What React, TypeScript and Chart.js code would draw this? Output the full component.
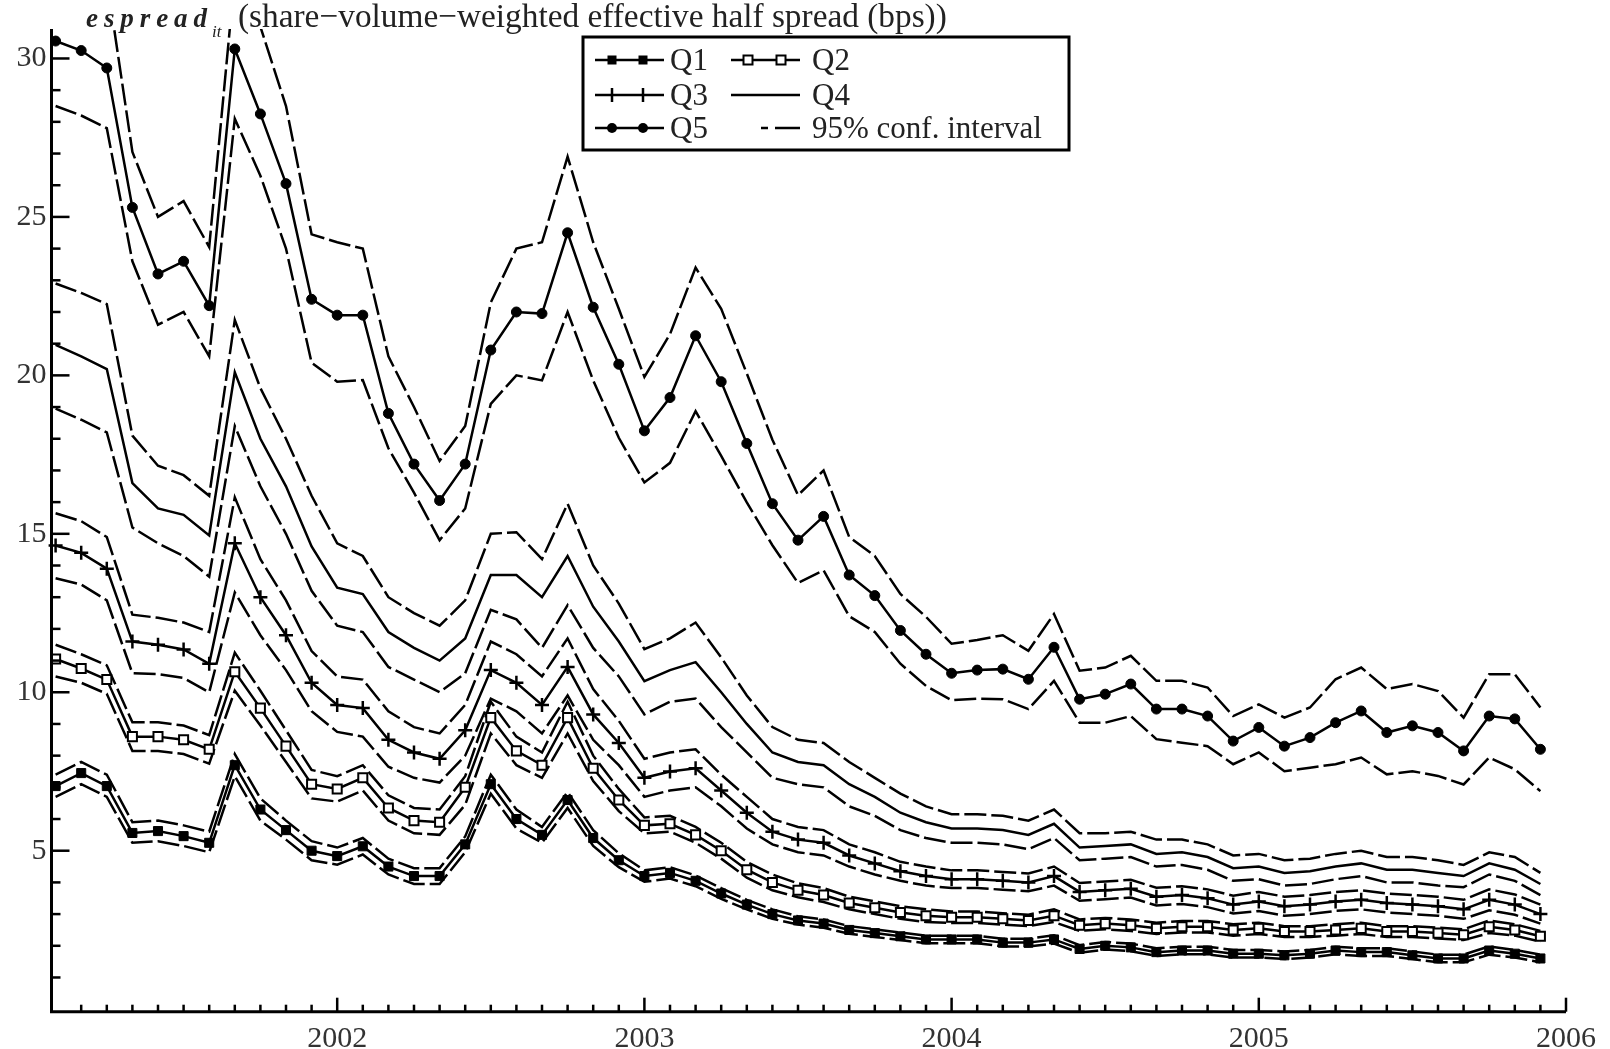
import React, { useEffect, useRef } from 'react';
import { Chart, registerables } from 'chart.js';

Chart.register(...registerables);

// ---------- data ----------
const MONTHS = [
  '2001-02', '2001-03', '2001-04', '2001-05', '2001-06', '2001-07', '2001-08', '2001-09', '2001-10', '2001-11', '2001-12',
  '2002-01', '2002-02', '2002-03', '2002-04', '2002-05', '2002-06', '2002-07', '2002-08', '2002-09', '2002-10', '2002-11', '2002-12',
  '2003-01', '2003-02', '2003-03', '2003-04', '2003-05', '2003-06', '2003-07', '2003-08', '2003-09', '2003-10', '2003-11', '2003-12',
  '2004-01', '2004-02', '2004-03', '2004-04', '2004-05', '2004-06', '2004-07', '2004-08', '2004-09', '2004-10', '2004-11', '2004-12',
  '2005-01', '2005-02', '2005-03', '2005-04', '2005-05', '2005-06', '2005-07', '2005-08', '2005-09', '2005-10', '2005-11', '2005-12',
];

const Q5 = [
  30.55, 30.25, 29.7, 25.3, 23.2, 23.6, 22.2, 30.3, 28.25, 26.05,
  22.4, 21.9, 21.9, 18.8, 17.2, 16.05, 17.2, 20.8, 22.0, 21.95,
  24.5, 22.15, 20.35, 18.25, 19.3, 21.25, 19.8, 17.85, 15.95, 14.8,
  15.55, 13.7, 13.05, 11.95, 11.2, 10.6, 10.7, 10.73, 10.41, 11.42,
  9.78, 9.94, 10.26, 9.47, 9.47, 9.25, 8.46, 8.89, 8.3, 8.57,
  9.04, 9.41, 8.73, 8.94, 8.73, 8.15, 9.25, 9.16, 8.2,
];
const Q5_UP = [
  32.8, 32.3, 32.5, 27.05, 25.0, 25.5, 24.05, 32.6, 31.0, 28.5,
  24.45, 24.2, 24.0, 20.6, 19.0, 17.3, 18.4, 22.3, 24.0, 24.2,
  26.9, 24.2, 22.1, 19.95, 21.3, 23.4, 22.1, 20.06, 17.97, 16.22,
  17.0, 14.9, 14.3, 13.1, 12.38, 11.53, 11.65, 11.8, 11.31, 12.47,
  10.68, 10.78, 11.15, 10.36, 10.36, 10.15, 9.25, 9.62, 9.2, 9.52,
  10.41, 10.78, 10.1, 10.26, 10.04, 9.2, 10.57, 10.57, 9.52,
];
const Q5_LO = [
  28.5, 28.2, 27.8, 23.6, 21.6, 22.0, 20.6, 28.1, 26.3, 24.0,
  20.4, 19.8, 19.85, 17.7, 16.3, 14.8, 15.8, 19.1, 20.0, 19.84,
  22.0, 19.84, 18.03, 16.62, 17.24, 18.87, 17.46, 15.99, 14.64, 13.45,
  13.85, 12.4, 11.9, 10.9, 10.2, 9.75, 9.8, 9.78, 9.47, 10.36,
  9.04, 9.04, 9.25, 8.52, 8.41, 8.3, 7.73, 8.1, 7.51, 7.62,
  7.73, 7.94, 7.41, 7.51, 7.36, 7.09, 7.94, 7.57, 6.88,
];

const Q4 = [
  20.96, 20.6, 20.2, 16.6, 15.8, 15.6, 14.95, 20.1, 18.0, 16.5,
  14.6, 13.3, 13.1, 11.9, 11.4, 11.0, 11.7, 13.7, 13.7, 13.0,
  14.3, 12.7, 11.6, 10.35, 10.7, 10.95, 10.0, 9.0, 8.1, 7.8,
  7.7, 7.1, 6.7, 6.2, 5.9, 5.7, 5.7, 5.65, 5.5, 5.85,
  5.1, 5.15, 5.2, 4.9, 4.95, 4.8, 4.45, 4.5, 4.3, 4.35,
  4.5, 4.6, 4.4, 4.4, 4.3, 4.2, 4.6, 4.4, 3.95,
];
const Q4_UP = [
  22.9, 22.6, 22.25, 18.1, 17.15, 16.85, 16.2, 21.75, 19.6, 18.0,
  16.2, 14.7, 14.3, 13.0, 12.5, 12.1, 12.9, 15.0, 15.05, 14.2,
  15.95, 14.0, 12.8, 11.36, 11.7, 12.2, 11.1, 9.9, 8.9, 8.5,
  8.4, 7.8, 7.3, 6.8, 6.4, 6.15, 6.15, 6.1, 5.95, 6.3,
  5.55, 5.55, 5.6, 5.35, 5.35, 5.2, 4.85, 4.9, 4.7, 4.75,
  4.9, 5.0, 4.8, 4.8, 4.7, 4.55, 4.95, 4.8, 4.3,
];
const Q4_LO = [
  18.95, 18.6, 18.2, 15.2, 14.7, 14.3, 13.65, 18.4, 16.5, 15.0,
  13.2, 12.1, 11.9, 10.8, 10.4, 10.0, 10.6, 12.6, 12.3, 11.4,
  12.75, 11.4, 10.5, 9.3, 9.7, 9.8, 8.9, 8.1, 7.3, 7.1,
  7.0, 6.4, 6.1, 5.65, 5.4, 5.25, 5.25, 5.2, 5.05, 5.4,
  4.7, 4.75, 4.8, 4.5, 4.55, 4.4, 4.05, 4.1, 3.9, 3.95,
  4.1, 4.2, 4.0, 4.0, 3.9, 3.85, 4.25, 4.05, 3.6,
];

const Q3 = [
  14.63, 14.4, 13.9, 11.6, 11.5, 11.35, 10.9, 14.7, 13.0, 11.8,
  10.3, 9.6, 9.5, 8.5, 8.1, 7.9, 8.8, 10.7, 10.3, 9.6,
  10.8, 9.3, 8.4, 7.3, 7.5, 7.6, 6.9, 6.2, 5.6, 5.35,
  5.25, 4.85, 4.6, 4.35, 4.2, 4.1, 4.1, 4.05, 4.0, 4.2,
  3.7, 3.75, 3.8, 3.55, 3.6, 3.5, 3.3, 3.4, 3.25, 3.3,
  3.4, 3.45, 3.35, 3.3, 3.25, 3.15, 3.45, 3.3, 3.0,
];
const Q3_UP = [
  15.65, 15.4, 14.9, 12.45, 12.35, 12.2, 11.9, 16.15, 14.2, 12.9,
  11.3, 10.5, 10.4, 9.4, 8.9, 8.7, 9.6, 11.6, 11.2, 10.5,
  11.7, 10.1, 9.1, 7.9, 8.1, 8.2, 7.4, 6.7, 6.0, 5.75,
  5.65, 5.2, 4.95, 4.65, 4.5, 4.38, 4.38, 4.33, 4.28, 4.5,
  3.98, 4.03, 4.08, 3.83, 3.88, 3.78, 3.58, 3.7, 3.55, 3.6,
  3.7, 3.75, 3.65, 3.6, 3.55, 3.45, 3.78, 3.62, 3.3,
];
const Q3_LO = [
  13.6, 13.4, 12.9, 10.6, 10.57, 10.45, 10.0, 13.15, 11.8, 10.7,
  9.4, 8.75, 8.6, 7.65, 7.3, 7.15, 8.0, 9.8, 9.4, 8.7,
  9.9, 8.5, 7.7, 6.7, 6.9, 7.0, 6.4, 5.7, 5.2, 4.95,
  4.85, 4.5, 4.25, 4.05, 3.9, 3.82, 3.82, 3.77, 3.72, 3.9,
  3.42, 3.47, 3.52, 3.27, 3.32, 3.22, 3.02, 3.1, 2.95, 3.0,
  3.1, 3.15, 3.05, 3.0, 2.95, 2.85, 3.12, 2.98, 2.7,
];

const Q2 = [
  11.05, 10.75, 10.4, 8.6, 8.6, 8.5, 8.2, 10.65, 9.5, 8.3,
  7.1, 6.95, 7.3, 6.35, 5.95, 5.9, 7.0, 9.2, 8.15, 7.7,
  9.2, 7.6, 6.6, 5.8, 5.85, 5.5, 5.0, 4.4, 4.0, 3.75,
  3.6, 3.35, 3.2, 3.05, 2.95, 2.9, 2.9, 2.85, 2.8, 2.95,
  2.65, 2.7, 2.65, 2.55, 2.6, 2.6, 2.5, 2.55, 2.45, 2.45,
  2.5, 2.55, 2.45, 2.45, 2.4, 2.35, 2.6, 2.5, 2.3,
];
const Q2_UP = [
  11.5, 11.2, 10.85, 9.05, 9.05, 8.95, 8.65, 11.25, 10.05, 8.8,
  7.55, 7.35, 7.7, 6.75, 6.35, 6.3, 7.35, 9.7, 8.6, 8.1,
  9.7, 8.0, 6.95, 6.05, 6.1, 5.75, 5.25, 4.65, 4.25, 3.97,
  3.82, 3.55, 3.4, 3.25, 3.15, 3.08, 3.08, 3.03, 2.98, 3.15,
  2.83, 2.88, 2.83, 2.73, 2.78, 2.78, 2.68, 2.73, 2.62, 2.62,
  2.68, 2.73, 2.62, 2.62, 2.57, 2.52, 2.8, 2.68, 2.47,
];
const Q2_LO = [
  10.5, 10.3, 9.95, 8.15, 8.15, 8.05, 7.75, 10.05, 8.95, 7.8,
  6.65, 6.55, 6.9, 5.95, 5.55, 5.5, 6.45, 8.7, 7.7, 7.3,
  8.7, 7.2, 6.25, 5.55, 5.6, 5.25, 4.75, 4.15, 3.75, 3.53,
  3.38, 3.15, 3.0, 2.85, 2.75, 2.72, 2.72, 2.67, 2.62, 2.75,
  2.47, 2.52, 2.47, 2.37, 2.42, 2.42, 2.32, 2.37, 2.28, 2.28,
  2.32, 2.37, 2.28, 2.28, 2.23, 2.18, 2.4, 2.32, 2.13,
];

const Q1 = [
  7.04, 7.45, 7.04, 5.56, 5.62, 5.46, 5.25, 7.7, 6.3, 5.65,
  5.0, 4.83, 5.14, 4.5, 4.2, 4.2, 5.2, 7.1, 6.0, 5.5,
  6.6, 5.4, 4.7, 4.2, 4.3, 4.05, 3.65, 3.3, 3.0, 2.8,
  2.7, 2.5, 2.4, 2.3, 2.2, 2.2, 2.2, 2.1, 2.1, 2.2,
  1.9, 2.0, 1.95, 1.8, 1.85, 1.85, 1.75, 1.75, 1.7, 1.75,
  1.85, 1.8, 1.8, 1.7, 1.6, 1.6, 1.85, 1.75, 1.6,
];
const Q1_UP = [
  7.4, 7.8, 7.4, 5.9, 5.95, 5.8, 5.6, 8.05, 6.65, 5.95,
  5.3, 5.1, 5.4, 4.75, 4.45, 4.45, 5.45, 7.4, 6.3, 5.75,
  6.85, 5.65, 4.92, 4.38, 4.48, 4.22, 3.82, 3.45, 3.15, 2.93,
  2.83, 2.62, 2.52, 2.42, 2.32, 2.32, 2.32, 2.22, 2.22, 2.33,
  2.02, 2.12, 2.07, 1.92, 1.97, 1.97, 1.87, 1.87, 1.82, 1.87,
  1.97, 1.92, 1.92, 1.82, 1.72, 1.72, 1.98, 1.87, 1.72,
];
const Q1_LO = [
  6.7, 7.1, 6.7, 5.25, 5.3, 5.15, 4.95, 7.35, 5.95, 5.35,
  4.7, 4.56, 4.88, 4.25, 3.95, 3.95, 4.95, 6.8, 5.7, 5.25,
  6.35, 5.15, 4.48, 4.02, 4.12, 3.88, 3.48, 3.15, 2.85, 2.67,
  2.57, 2.38, 2.28, 2.18, 2.08, 2.08, 2.08, 1.98, 1.98, 2.07,
  1.78, 1.88, 1.83, 1.68, 1.73, 1.73, 1.63, 1.63, 1.58, 1.63,
  1.73, 1.68, 1.68, 1.58, 1.48, 1.48, 1.72, 1.63, 1.48,
];

const X_TICK_LABELS = [2002, 2003, 2004, 2005, 2006];
const Y_TICK_LABELS = [5, 10, 15, 20, 25, 30];
const TITLE_VAR = 'espread';
const TITLE_SUB = 'it';
const TITLE_REST = '(share\u2212volume\u2212weighted effective half spread (bps))';
const LEGEND_LABELS = ['Q1', 'Q2', 'Q3', 'Q4', 'Q5', '95% conf. interval'];

// ---------- layout ----------
const W = 1610;
const H = 1049;
const PLOT = { left: 51.5, right: 1566, top: 29, bottom: 1011.7 };
const X_MIN = 2001.07;
const X_MAX = 2006;
const Y_MIN = -0.08;
const Y_MAX = 30.93;
const FONT = '"Liberation Serif", "Times New Roman", serif';
const CI_DASH = [22, 5];

const toYear = (m: string) => Number(m.slice(0, 4)) + (Number(m.slice(5, 7)) - 1) / 12;
const XS = MONTHS.map(toYear);
const pts = (arr: number[]) => arr.map((v, i) => ({ x: XS[i], y: v }));

function drawMarker(ctx: CanvasRenderingContext2D, kind: string, x: number, y: number) {
  ctx.save();
  ctx.setLineDash([]);
  ctx.strokeStyle = '#000';
  ctx.fillStyle = '#000';
  if (kind === 'fsq') {
    ctx.fillRect(x - 4.5, y - 4.5, 9, 9);
  } else if (kind === 'osq') {
    ctx.fillStyle = '#fff';
    ctx.fillRect(x - 4.5, y - 4.5, 9, 9);
    ctx.lineWidth = 2;
    ctx.strokeRect(x - 4.5, y - 4.5, 9, 9);
  } else if (kind === 'cross') {
    ctx.lineWidth = 2.5;
    ctx.beginPath();
    ctx.moveTo(x, y - 7);
    ctx.lineTo(x, y + 7);
    ctx.stroke();
  } else if (kind === 'dot') {
    ctx.beginPath();
    ctx.arc(x, y, 5, 0, Math.PI * 2);
    ctx.fill();
  }
  ctx.restore();
}

const decorPlugin = {
  id: 'decor',
  afterDatasetsDraw(chart: any) {
    const { ctx, chartArea: a, scales } = chart;
    const xs = scales.x;
    const ys = scales.y;
    ctx.save();
    ctx.setLineDash([]);
    ctx.strokeStyle = '#000';
    // axes
    ctx.lineWidth = 3;
    ctx.beginPath();
    ctx.moveTo(a.left, a.top);
    ctx.lineTo(a.left, a.bottom);
    ctx.lineTo(a.right, a.bottom);
    ctx.stroke();
    // y ticks (inward)
    ctx.lineWidth = 2.5;
    for (let v = 1; v <= 30; v++) {
      const py = ys.getPixelForValue(v);
      const len = v % 5 === 0 ? 18 : 9;
      ctx.beginPath();
      ctx.moveTo(a.left, py);
      ctx.lineTo(a.left + len, py);
      ctx.stroke();
    }
    // x ticks (monthly minor, yearly major)
    for (let k = 2; k <= 60; k++) {
      const px = xs.getPixelForValue(2001 + k / 12);
      const len = k % 12 === 0 ? 14 : 7;
      ctx.beginPath();
      ctx.moveTo(px, a.bottom);
      ctx.lineTo(px, a.bottom - len);
      ctx.stroke();
    }
    ctx.restore();
  },
  afterDraw(chart: any) {
    const { ctx } = chart;
    ctx.save();
    ctx.setLineDash([]);
    // ---- title ----
    ctx.fillStyle = '#222';
    ctx.textAlign = 'left';
    ctx.textBaseline = 'alphabetic';
    ctx.font = `italic bold 27px ${FONT}`;
    const natural = ctx.measureText(TITLE_VAR).width;
    const gap = (207 - 86 - natural) / (TITLE_VAR.length - 1);
    let cx = 86;
    for (const ch of TITLE_VAR) {
      ctx.fillText(ch, cx, 27);
      cx += ctx.measureText(ch).width + gap;
    }
    ctx.font = `italic 17px ${FONT}`;
    ctx.fillText(TITLE_SUB, 212, 37);
    ctx.font = `30px ${FONT}`;
    const mw = ctx.measureText(TITLE_REST).width;
    const size = (30 * 709) / mw;
    ctx.font = `${size}px ${FONT}`;
    ctx.fillText(TITLE_REST, 238, 27);

    // ---- legend ----
    const box = { left: 583, top: 37, right: 1069, bottom: 150 };
    ctx.fillStyle = '#fff';
    ctx.fillRect(box.left, box.top, box.right - box.left, box.bottom - box.top);
    ctx.strokeStyle = '#000';
    ctx.lineWidth = 3;
    ctx.strokeRect(box.left, box.top, box.right - box.left, box.bottom - box.top);

    const rows = [60, 95, 128];
    const cols = [
      { x0: 595, x1: 664, m: [612, 643], tx: 670 },
      { x0: 731, x1: 800, m: [748, 781], tx: 812 },
    ];
    const entries = [
      { r: 0, c: 0, marker: 'fsq', dash: false },
      { r: 0, c: 1, marker: 'osq', dash: false },
      { r: 1, c: 0, marker: 'cross', dash: false },
      { r: 1, c: 1, marker: '', dash: false },
      { r: 2, c: 0, marker: 'dot', dash: false },
      { r: 2, c: 1, marker: '', dash: true },
    ];
    ctx.font = `31px ${FONT}`;
    entries.forEach((e, i) => {
      const y = rows[e.r];
      const col = cols[e.c];
      ctx.strokeStyle = '#000';
      ctx.lineWidth = 2.5;
      if (e.dash) {
        ctx.beginPath();
        ctx.moveTo(col.x0 + 30, y);
        ctx.lineTo(col.x0 + 37, y);
        ctx.moveTo(col.x0 + 44, y);
        ctx.lineTo(col.x1, y);
        ctx.stroke();
      } else {
        ctx.beginPath();
        ctx.moveTo(col.x0, y);
        ctx.lineTo(col.x1, y);
        ctx.stroke();
      }
      if (e.marker) col.m.forEach((mx) => drawMarker(ctx, e.marker, mx, y));
      ctx.fillStyle = '#222';
      ctx.fillText(LEGEND_LABELS[i], col.tx, y + 10);
    });
    ctx.restore();
  },
};

export default function App() {
  const ref = useRef<HTMLCanvasElement>(null);

  useEffect(() => {
    document.body.style.margin = '0';
    const canvas = ref.current;
    if (!canvas) return;
    const clip = { left: 8, right: 8, top: 0, bottom: 8 };
    const base = { borderColor: '#000', borderWidth: 2.5, tension: 0, fill: false, clip };
    const ci = (label: string, arr: number[]) => ({
      ...base,
      label,
      data: pts(arr),
      borderDash: CI_DASH,
      pointRadius: 0,
    });
    const chart = new Chart(canvas, {
      type: 'line',
      data: {
        datasets: [
          { ...base, label: 'Q1', data: pts(Q1), pointStyle: 'rect', pointRadius: 6.4, pointBackgroundColor: '#000', pointBorderColor: '#000', pointBorderWidth: 1 },
          { ...base, label: 'Q2', data: pts(Q2), pointStyle: 'rect', pointRadius: 6.4, pointBackgroundColor: '#fff', pointBorderColor: '#000', pointBorderWidth: 2 },
          { ...base, label: 'Q3', data: pts(Q3), pointStyle: 'cross', pointRadius: 7, pointBorderColor: '#000', pointBorderWidth: 2.5 },
          { ...base, label: 'Q4', data: pts(Q4), pointRadius: 0 },
          { ...base, label: 'Q5', data: pts(Q5), pointStyle: 'circle', pointRadius: 5, pointBackgroundColor: '#000', pointBorderColor: '#000', pointBorderWidth: 1 },
          ci('Q1 upper', Q1_UP),
          ci('Q1 lower', Q1_LO),
          ci('Q2 upper', Q2_UP),
          ci('Q2 lower', Q2_LO),
          ci('Q3 upper', Q3_UP),
          ci('Q3 lower', Q3_LO),
          ci('Q4 upper', Q4_UP),
          ci('Q4 lower', Q4_LO),
          ci('Q5 upper', Q5_UP),
          ci('Q5 lower', Q5_LO),
        ] as any,
      },
      options: {
        animation: false,
        responsive: false,
        devicePixelRatio: 1,
        events: [],
        layout: { padding: { top: PLOT.top, right: W - PLOT.right, left: 0, bottom: 0 } },
        plugins: { legend: { display: false }, tooltip: { enabled: false }, title: { display: false } },
        scales: {
          x: {
            type: 'linear',
            min: X_MIN,
            max: X_MAX,
            grid: { display: false, drawTicks: false },
            border: { display: false },
            afterFit: (s: any) => { s.height = H - PLOT.bottom; },
            afterBuildTicks: (s: any) => { s.ticks = X_TICK_LABELS.map((v) => ({ value: v })); },
            ticks: {
              autoSkip: false,
              maxRotation: 0,
              padding: 9,
              color: '#333',
              font: { family: FONT, size: 30 },
              callback: (v: any) => String(v),
            },
          },
          y: {
            type: 'linear',
            min: Y_MIN,
            max: Y_MAX,
            grid: { display: false, drawTicks: false },
            border: { display: false },
            afterFit: (s: any) => { s.width = PLOT.left; },
            afterBuildTicks: (s: any) => { s.ticks = Y_TICK_LABELS.map((v) => ({ value: v })); },
            ticks: {
              padding: 5,
              color: '#333',
              font: { family: FONT, size: 30 },
              callback: (v: any) => String(v),
            },
          },
        },
      } as any,
      plugins: [decorPlugin],
    });
    return () => chart.destroy();
  }, []);

  return (
    <div style={{ position: 'relative', width: W, height: H, background: '#fff' }}>
      <canvas ref={ref} width={W} height={H} style={{ display: 'block', width: W, height: H }} />
    </div>
  );
}
